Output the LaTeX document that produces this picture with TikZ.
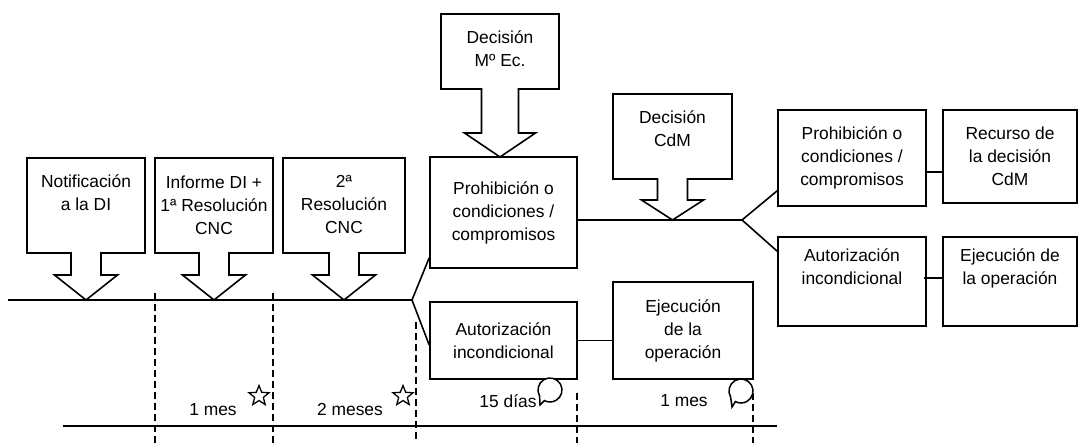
\documentclass[tikz,border=0pt]{standalone}
\usepackage{fontspec}
\setmainfont{Liberation Sans}
\usetikzlibrary{calc,shapes.geometric}
\tikzset{
  ln/.style={line width=1.6pt, line join=miter},
  boxnode/.style={draw, line width=1.6pt, align=center, inner sep=0pt},
  txt/.style={align=center, inner sep=0pt},
  dsh/.style={line width=1.5pt, dash pattern=on 7pt off 4pt},
  starmark/.style={star, star points=5, star point ratio=2.3, draw, line width=1.3pt, minimum size=21pt, inner sep=0pt},
  bubble/.style={line width=1.5pt, fill=white}
}
\newcommand{\dncallout}[8]{%
  \draw[ln] ({#1-#2},#3) -- ({#1+#2},#3) -- ({#1+#2},#4) -- ({#1+#5},#4) -- ({#1+#5},#7)
    -- ({#1+#6},#7) -- (#1,#8) -- ({#1-#6},#7) -- ({#1-#5},#7) -- ({#1-#5},#4) -- ({#1-#2},#4) -- cycle;}
\newcommand{\speech}[4]{% center x, center y, tail x, tail y
  \draw[bubble] ($(#1,#2)+(150:12)$) arc[start angle=150, end angle=478, radius=12] -- (#3,#4) -- cycle;}
\begin{document}
\begin{tikzpicture}[x=1pt,y=-1pt,font=\fontsize{17.4}{23}\selectfont]
\useasboundingbox (0,0) rectangle (1079,443);

% timelines
\coordinate (t0) at (8,300);
\coordinate (b1) at (412,300);
\coordinate (l0) at (63,426);
\coordinate (l1) at (777,426);
\draw[ln] (t0) -- (b1);
\draw[ln] (l0) -- (l1);

% dashed verticals
\draw[dsh] (155,293) -- (155,443);
\draw[dsh] (273,293) -- (273,443);
\draw[dsh] (416,322) -- (416,443);
\draw[dsh] (577,393) -- (577,443);
\draw[dsh] (753,393) -- (753,443);

% callouts
\dncallout{86}{59}{158}{253}{15}{31.5}{275}{300}
\dncallout{214}{59}{158}{253}{15}{31.5}{275}{300}
\dncallout{344}{61}{158}{253}{15}{31.5}{275}{300}
\dncallout{500}{59}{14}{89}{18.5}{35.5}{133}{157}
\dncallout{672.5}{59.5}{94}{179}{15}{31}{200}{220}
\node[txt] (c1) at (86,193) {Notificación\\a la DI};
\node[txt] (c2) at (214,205) {Informe DI +\\1ª Resolución\\CNC};
\node[txt] (c3) at (344,205) {2ª\\Resolución\\CNC};
\node[txt] (c4) at (500,49) {Decisión\\Mº Ec.};
\node[txt] (c5) at (672.5,129) {Decisión\\CdM};

% boxes
\node[boxnode, minimum width=147pt, minimum height=111pt] (pro1) at (503.5,212.5) {Prohibición o\\condiciones /\\compromisos};
\node[boxnode, minimum width=147pt, minimum height=77pt] (aut1) at (503.5,340.5) {Autorización\\incondicional};
\node[boxnode, minimum width=140pt, minimum height=97pt] (eje1) at (683,330.5) {Ejecución\\de la\\operación};
\node[boxnode, minimum width=148pt, minimum height=96pt] (pro2) at (852,158) {Prohibición o\\condiciones /\\compromisos};
\node[boxnode, minimum width=134pt, minimum height=93pt] (rec) at (1010,156.5) {Recurso de\\la decisión\\CdM};
\node[boxnode, minimum width=148pt, minimum height=89pt] (aut2) at (852,281.5) {Autorización\\incondicional\\[6pt]};
\node[boxnode, minimum width=134pt, minimum height=89pt] (eje2) at (1010,281.5) {Ejecución de\\la operación\\[6pt]};

% connectors
\coordinate (b2) at (742,220);
\draw[ln] (b1) -- ($(pro1.south west)+(0,-11)$);
\draw[ln] (b1) -- ($(aut1.west)+(0,4.5)$);
\draw[ln] (pro1.east |- b2) -- (b2);
\draw[ln] (b2) -- ($(pro2.south west)+(0,-16)$);
\draw[ln] (b2) -- ($(aut2.north west)+(0,15)$);
\draw[ln] ($(pro2.east)+(0,14)$) -- (rec.west |- {$(pro2.east)+(0,14)$});
\draw[ln] ($(aut2.east)+(-3,-3.5)$) -- (eje2.west |- {$(aut2.east)+(0,-3.5)$});
\draw[ln] (aut1.east) -- (eje1.west |- aut1.east);

% duration labels
\node[txt] (d1) at (213,410) {1 mes};
\node[txt] (d2) at (350,410) {2 meses};
\node[txt] (d3) at (508,401) {15 días};
\node[txt] (d4) at (684,401) {1 mes};

% marks
\node[starmark] (s1) at (259,396) {};
\node[starmark] (s2) at (403,396) {};
\speech{550}{390}{540}{405}
\speech{741}{391}{732}{407}
\end{tikzpicture}
\end{document}
